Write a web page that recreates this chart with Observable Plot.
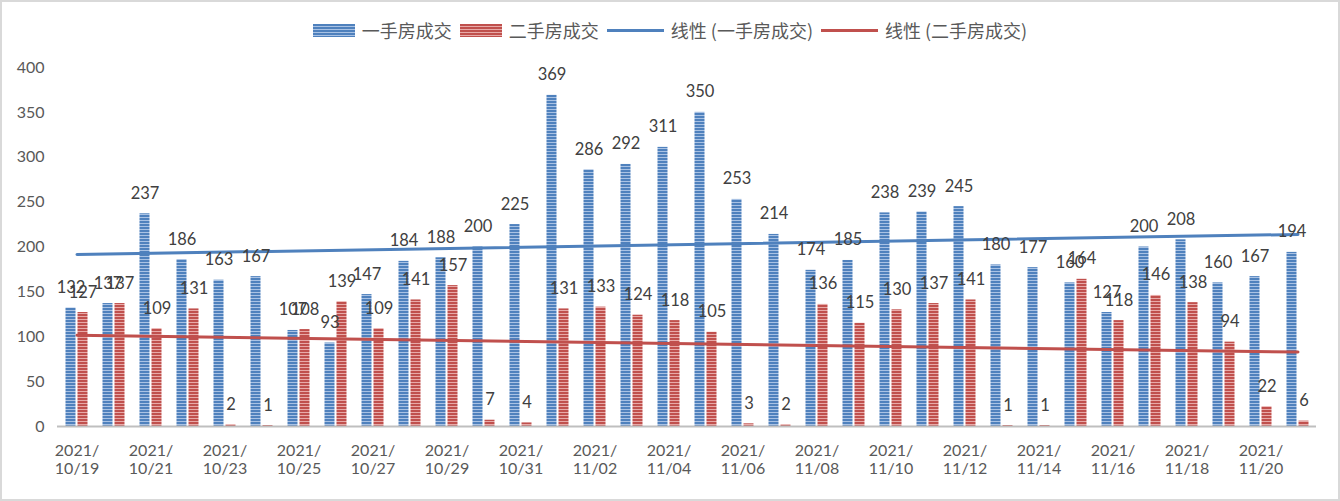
<!DOCTYPE html>
<html>
<head>
<meta charset="utf-8">
<script src="https://cdn.jsdelivr.net/npm/d3@7"></script>
<script src="https://cdn.jsdelivr.net/npm/@observablehq/plot@0.6"></script>
<style>
  body { margin: 0; background: #fff; }
  #frame { position: absolute; left: 0; top: 0; width: 1336px; height: 497px; border: 2px solid #d9d9d9; pointer-events: none; }
  #legend { position: absolute; left: 0; top: 0; width: 1340px; height: 50px; display: flex; justify-content: center; align-items: center; padding-top: 10px; box-sizing: border-box;
    font-family: "Noto Sans CJK SC", "Noto Sans", sans-serif; font-size: 18px; color: #595959; }
  .item { display: flex; align-items: center; margin: 0 4px; }
  .item svg { margin-right: 7px; }
  #chart { position: absolute; left: 0; top: 50px; }
</style>
</head>
<body>
<div id="legend"></div>
<div id="chart"></div>
<div id="frame"></div>
<script>
const year = "2021";
const dates = ["10/19","10/20","10/21","10/22","10/23","10/24","10/25","10/26","10/27","10/28","10/29","10/30","10/31",
  "11/01","11/02","11/03","11/04","11/05","11/06","11/07","11/08","11/09","11/10","11/11","11/12","11/13","11/14","11/15",
  "11/16","11/17","11/18","11/19","11/20","11/21"];
const newHome = [132,137,237,186,163,167,107,93,147,184,188,200,225,369,286,292,311,350,253,214,174,185,238,239,245,180,177,160,127,200,208,160,167,194];
const secondHand = [127,137,109,131,2,1,108,139,109,141,157,7,4,131,133,124,118,105,3,2,136,115,130,137,141,1,1,164,118,146,138,94,22,6];
const tickLabels = ["10/19","10/21","10/23","10/25","10/27","10/29","10/31","11/02","11/04","11/06","11/08","11/10","11/12","11/14","11/16","11/18","11/20"];
const yTicks = [0,50,100,150,200,250,300,350,400];
const seriesNames = ["一手房成交","二手房成交","线性 (一手房成交)","线性 (二手房成交)"];

const blue = "#4F81BD", blueLight = "#A9C2E4";
const red = "#C0504D", redLight = "#E8AAA8";

const rowsA = dates.map((d, i) => ({date: d, v: newHome[i]}));
const rowsB = dates.map((d, i) => ({date: d, v: secondHand[i]}));

function regression(vals) {
  const n = vals.length;
  const xs = vals.map((_, i) => i);
  const mx = d3.mean(xs), my = d3.mean(vals);
  const b = d3.sum(xs, (x, i) => (x - mx) * (vals[i] - my)) / d3.sum(xs, x => (x - mx) ** 2);
  const a = my - b * mx;
  return [{date: dates[0], v: a}, {date: dates[n - 1], v: a + b * (n - 1)}];
}
const trendA = regression(newHome);
const trendB = regression(secondHand);

const chart = Plot.plot({
  width: 1340,
  height: 451,
  marginLeft: 57,
  marginRight: 24,
  marginTop: 17,
  marginBottom: 75,
  style: {fontFamily: "Lato, 'Open Sans', sans-serif", fontSize: "16px", color: "#595959", background: "transparent"},
  x: {type: "band", domain: dates, padding: 0},
  y: {domain: [0, 400]},
  marks: [
    Plot.barY(rowsA, {x: "date", y: "v", fill: "url(#stripeBlue)", insetLeft: 7.5, insetRight: 19.5}),
    Plot.barY(rowsB, {x: "date", y: "v", fill: "url(#stripeRed)", insetLeft: 19.5, insetRight: 7.5}),
    Plot.ruleY([0], {stroke: "#bfbfbf", strokeWidth: 2}),
    Plot.line(trendA, {x: "date", y: "v", stroke: blue, strokeWidth: 3}),
    Plot.line(trendB, {x: "date", y: "v", stroke: red, strokeWidth: 3}),
    Plot.text(rowsA, {x: "date", y: "v", text: d => String(d.v), dx: -6, dy: -15, lineAnchor: "bottom", fill: "#404040", fontSize: 16.5}),
    Plot.text(rowsB, {x: "date", y: "v", text: d => String(d.v), dx: 6, dy: -15, lineAnchor: "bottom", fill: "#404040", fontSize: 16.5}),
    Plot.axisY({ticks: yTicks, tickSize: 0, tickPadding: 13, label: null, fill: "#595959", fontSize: 16}),
    Plot.axisX({ticks: tickLabels, tickSize: 0, tickPadding: 16, label: null, tickFormat: d => year + "/\n" + d, lineHeight: 1.15, fill: "#595959", fontSize: 16})
  ]
});

function addPatterns(svgSel) {
  const defs = svgSel.insert("defs", ":first-child");
  [["stripeBlue", blue, blueLight], ["stripeRed", red, redLight]].forEach(([id, c1, c2]) => {
    const p = defs.append("pattern").attr("id", id).attr("patternUnits", "userSpaceOnUse").attr("width", 8).attr("height", 3);
    p.append("rect").attr("width", 8).attr("height", 3).attr("fill", c1);
    p.append("rect").attr("y", 2).attr("width", 8).attr("height", 1).attr("fill", c2);
  });
}
addPatterns(d3.select(chart));
document.getElementById("chart").appendChild(chart);

// legend
const legend = d3.select("#legend");
const sw = [
  {name: seriesNames[0], kind: "bar", id: "lgBlue", c1: blue, c2: blueLight},
  {name: seriesNames[1], kind: "bar", id: "lgRed", c1: red, c2: redLight},
  {name: seriesNames[2], kind: "line", c1: blue},
  {name: seriesNames[3], kind: "line", c1: red}
];
sw.forEach(s => {
  const it = legend.append("div").attr("class", "item");
  if (s.kind === "bar") {
    const svg = it.append("svg").attr("width", 42).attr("height", 13);
    const p = svg.append("defs").append("pattern").attr("id", s.id).attr("patternUnits", "userSpaceOnUse").attr("width", 8).attr("height", 3);
    p.append("rect").attr("width", 8).attr("height", 3).attr("fill", s.c1);
    p.append("rect").attr("y", 2).attr("width", 8).attr("height", 1).attr("fill", s.c2);
    svg.append("rect").attr("width", 42).attr("height", 13).attr("fill", `url(#${s.id})`);
  } else {
    const svg = it.append("svg").attr("width", 57).attr("height", 13);
    svg.append("line").attr("x1", 0).attr("x2", 57).attr("y1", 6.5).attr("y2", 6.5).attr("stroke", s.c1).attr("stroke-width", 3);
  }
  it.append("span").text(s.name);
});
</script>
</body>
</html>
